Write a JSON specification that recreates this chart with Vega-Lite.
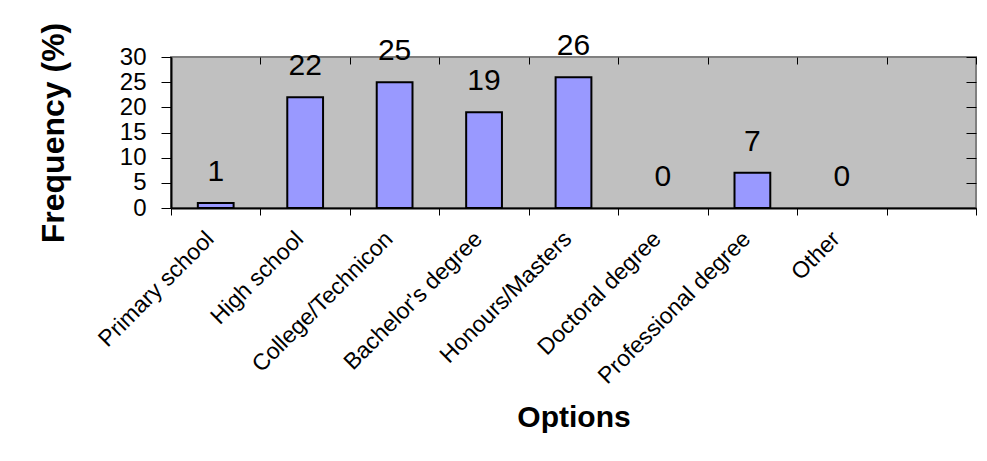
{
  "$schema": "https://vega.github.io/schema/vega-lite/v6.json",
  "width": 805,
  "height": 151,
  "autosize": {"type": "none"},
  "padding": {"left": 171, "top": 57, "right": 11, "bottom": 253},
  "background": "white",
  "config": {
    "font": "Liberation Sans",
    "view": {"fill": "#C0C0C0", "stroke": "#808080", "strokeWidth": 2}
  },
  "data": {
    "values": [
      {"option": "Primary school", "value": 1},
      {"option": "High school", "value": 22},
      {"option": "College/Technicon", "value": 25},
      {"option": "Bachelor's degree", "value": 19},
      {"option": "Honours/Masters", "value": 26},
      {"option": "Doctoral degree", "value": 0},
      {"option": "Professional degree", "value": 7},
      {"option": "Other", "value": 0}
    ]
  },
  "encoding": {
    "x": {
      "field": "option",
      "type": "nominal",
      "sort": null,
      "scale": {
        "domain": ["Primary school", "High school", "College/Technicon", "Bachelor's degree", "Honours/Masters", "Doctoral degree", "Professional degree", "Other", ""],
        "paddingInner": 0,
        "paddingOuter": 0
      }
    },
    "y": {
      "field": "value",
      "type": "quantitative",
      "scale": {"domain": [0, 30], "nice": false}
    }
  },
  "layer": [
    {
      "transform": [{"filter": "datum.value > 0"}],
      "mark": {"type": "bar", "fill": "#9999FF", "stroke": "black", "strokeWidth": 2, "width": {"band": 0.4}},
      "encoding": {
        "x": {
          "field": "option",
          "type": "nominal",
          "sort": null,
          "axis": {
            "title": "Options",
            "titleFontSize": 30,
            "titleFontWeight": "bold",
            "titleColor": "black",
            "titlePadding": 14,
            "labelAngle": -45,
            "labelAlign": "right",
            "labelBaseline": "middle",
            "labelFontSize": 23,
            "labelColor": "black",
            "labelPadding": 20,
            "labelOffset": -6,
            "labelLimit": 0,
            "labelOverlap": false,
            "ticks": true,
            "tickBand": "extent",
            "tickSize": 7,
            "tickWidth": 1,
            "tickColor": "black",
            "domainColor": "black",
            "domainWidth": 2,
            "grid": false
          }
        },
        "y": {
          "field": "value",
          "type": "quantitative",
          "axis": {
            "title": "Frequency (%)",
            "titleFontSize": 32,
            "titleFontWeight": "bold",
            "titleColor": "black",
            "titlePadding": 49,
            "values": [0, 5, 10, 15, 20, 25, 30],
            "labelFontSize": 24,
            "labelColor": "black",
            "labelPadding": 15,
            "labelOverlap": false,
            "ticks": true,
            "tickSize": 10,
            "tickWidth": 1,
            "tickColor": "black",
            "domainColor": "black",
            "domainWidth": 2,
            "grid": false
          }
        }
      }
    },
    {
      "mark": {"type": "text", "fontSize": 30, "color": "black", "baseline": "alphabetic", "dy": -22},
      "encoding": {
        "x": {
          "field": "option",
          "type": "nominal",
          "sort": null,
          "axis": {
            "title": null,
            "labels": false,
            "domain": false,
            "ticks": true,
            "tickBand": "extent",
            "tickSize": -7,
            "tickWidth": 1,
            "tickColor": "black",
            "grid": false
          }
        },
        "y": {
          "field": "value",
          "type": "quantitative",
          "axis": {
            "title": null,
            "labels": false,
            "domain": false,
            "values": [0, 5, 10, 15, 20, 25, 30],
            "ticks": true,
            "tickSize": -10,
            "tickWidth": 1,
            "tickColor": "black",
            "grid": false
          }
        },
        "text": {"field": "value", "type": "quantitative"}
      }
    }
  ],
  "resolve": {"axis": {"x": "independent", "y": "independent"}}
}
